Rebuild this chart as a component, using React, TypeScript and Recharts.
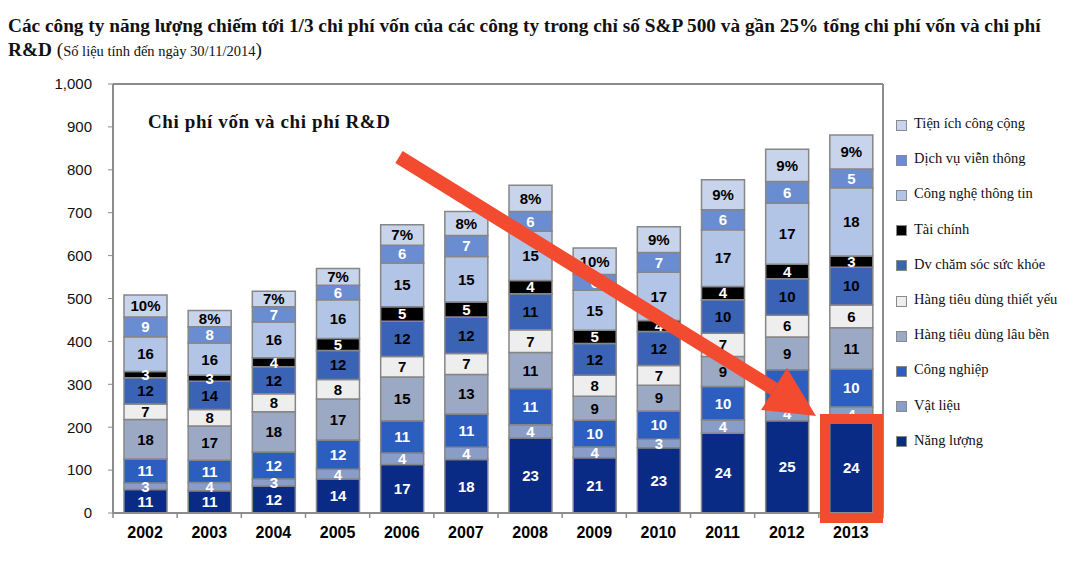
import React from "react"
import { Bar, BarChart, XAxis, YAxis, LabelList, ReferenceLine } from "recharts"

const years = ["2002", "2003", "2004", "2005", "2006", "2007", "2008", "2009", "2010", "2011", "2012", "2013"]

// values ($bn)
const nangLuong = [55, 52, 63, 79, 113, 125, 175, 129, 152, 186, 215, 212]
const vatLieu = [15, 19, 16, 23, 27, 28, 31, 25, 20, 31, 34, 35]
const congNghiep = [56, 52, 63, 68, 75, 78, 84, 62, 66, 78, 85, 88]
const lauBen = [92, 80, 94, 96, 102, 92, 84, 56, 60, 70, 76, 97]
const thietYeu = [36, 38, 42, 45, 48, 49, 53, 49, 46, 54, 51, 53]
const chamSoc = [61, 66, 63, 68, 82, 85, 84, 74, 79, 78, 85, 88]
const taiChinh = [15, 14, 21, 28, 34, 35, 31, 31, 26, 31, 34, 26]
const cntt = [81, 75, 83, 90, 102, 106, 115, 93, 112, 132, 142, 159]
const vienThong = [46, 38, 36, 34, 41, 49, 46, 37, 46, 47, 51, 44]
const tienIch = [51, 38, 36, 39, 48, 56, 61, 62, 60, 70, 75, 79]

// share labels (%) printed in the segments
const nangLuongPct = [11, 11, 12, 14, 17, 18, 23, 21, 23, 24, 25, 24]
const vatLieuPct = [3, 4, 3, 4, 4, 4, 4, 4, 3, 4, 4, 4]
const congNghiepPct = [11, 11, 12, 12, 11, 11, 11, 10, 10, 10, 10, 10]
const lauBenPct = [18, 17, 18, 17, 15, 13, 11, 9, 9, 9, 9, 11]
const thietYeuPct = [7, 8, 8, 8, 7, 7, 7, 8, 7, 7, 6, 6]
const chamSocPct = [12, 14, 12, 12, 12, 12, 11, 12, 12, 10, 10, 10]
const taiChinhPct = [3, 3, 4, 5, 5, 5, 4, 5, 4, 4, 4, 3]
const cnttPct = [16, 16, 16, 16, 15, 15, 15, 15, 17, 17, 17, 18]
const vienThongPct = [9, 8, 7, 6, 6, 7, 6, 6, 7, 6, 6, 5]
const tienIchPct = [10, 8, 7, 7, 7, 8, 8, 10, 9, 9, 9, 9]

const yTicks = [0, 100, 200, 300, 400, 500, 600, 700, 800, 900, 1000]

const series = [
  { key: "nangLuong", name: "Năng lượng", values: nangLuong, pct: nangLuongPct, color: "#0a2b85", text: "#fff" },
  { key: "vatLieu", name: "Vật liệu", values: vatLieu, pct: vatLieuPct, color: "#8a9dc8", text: "#fff" },
  { key: "congNghiep", name: "Công nghiệp", values: congNghiep, pct: congNghiepPct, color: "#2b5ebf", text: "#fff" },
  { key: "lauBen", name: "Hàng tiêu dùng lâu bền", values: lauBen, pct: lauBenPct, color: "#9ca9c5", text: "#000" },
  { key: "thietYeu", name: "Hàng tiêu dùng thiết yếu", values: thietYeu, pct: thietYeuPct, color: "#eeeeee", text: "#000" },
  { key: "chamSoc", name: "Dv chăm sóc sức khỏe", values: chamSoc, pct: chamSocPct, color: "#3b63b5", text: "#000" },
  { key: "taiChinh", name: "Tài chính", values: taiChinh, pct: taiChinhPct, color: "#000000", text: "#fff" },
  { key: "cntt", name: "Công nghệ thông tin", values: cntt, pct: cnttPct, color: "#b3c5e6", text: "#000" },
  { key: "vienThong", name: "Dịch vụ viễn thông", values: vienThong, pct: vienThongPct, color: "#6a8cd0", text: "#fff" },
  { key: "tienIch", name: "Tiện ích công cộng", values: tienIch, pct: tienIchPct, color: "#c7d4ec", text: "#000" },
]

const data = years.map((year, i) => {
  const row: Record<string, string | number> = { year }
  series.forEach((s) => {
    row[s.key] = s.values[i]
    row[s.key + "P"] = s.pct[i]
  })
  return row
})

const W = 1067
const H = 565
const PLOT_LEFT = 113
const PLOT_RIGHT = 883
const PLOT_TOP = 84
const PLOT_BOTTOM = 513
const X_AXIS_H = 40
const HALF_BAND = (PLOT_RIGHT - PLOT_LEFT) / years.length / 2

const sans = "'Liberation Sans', Arial, sans-serif"
const serif = "'Liberation Serif', 'Times New Roman', serif"
const axisGray = "#8c8c8c"
const red = "#f34b2f"

function XTick(props: any) {
  const { x, y, payload, index } = props
  const last = index === years.length - 1
  return (
    <g>
      <line x1={x - HALF_BAND} x2={x - HALF_BAND} y1={y} y2={y + 5} stroke={axisGray} strokeWidth={1.5} />
      {last && <line x1={x + HALF_BAND} x2={x + HALF_BAND} y1={y} y2={y + 5} stroke={axisGray} strokeWidth={1.5} />}
      <text x={x} y={y + 25} textAnchor="middle" fontFamily={sans} fontWeight="bold" fontSize={16} fill="#000">
        {payload.value}
      </text>
    </g>
  )
}

export default function App() {
  // arrow geometry
  const tail = { x: 399, y: 157 }
  const base = { x: 774, y: 389 }
  const nx = -0.527 * 7
  const ny = 0.85 * 7
  const shaft = [
    [tail.x + nx, tail.y + ny],
    [base.x + nx, base.y + ny],
    [base.x - nx, base.y - ny],
    [tail.x - nx, tail.y - ny],
  ].map((p) => p.join(",")).join(" ")

  return (
    <div style={{ position: "absolute", left: 0, top: 0, width: W, height: H, background: "#fff" }}>
      <div
        style={{
          position: "absolute",
          left: 8,
          top: 14,
          width: 1059,
          fontFamily: serif,
          fontSize: 19.3,
          fontWeight: "bold",
          lineHeight: "24px",
          color: "#111",
          whiteSpace: "nowrap",
        }}
      >
        Các công ty năng lượng chiếm tới 1/3 chi phí vốn của các công ty trong chỉ số S&amp;P 500 và gần 25% tổng chi phí vốn và chi phí
        <br />
        R&amp;D{" "}
        <span style={{ fontWeight: "normal" }}>
          (<span style={{ fontSize: 14.5 }}>Số liệu tính đến ngày 30/11/2014</span>)
        </span>
      </div>

      <div style={{ position: "absolute", left: 0, top: 0 }}>
        <BarChart
          width={W}
          height={H}
          data={data}
          margin={{ top: PLOT_TOP, right: W - PLOT_RIGHT - 1, bottom: H - PLOT_BOTTOM - X_AXIS_H, left: PLOT_LEFT - 60 }}
          barSize={43}
        >
          <XAxis
            dataKey="year"
            height={X_AXIS_H}
            tickSize={0}
            tickMargin={0}
            tickLine={false}
            axisLine={{ stroke: axisGray, strokeWidth: 2 }}
            tick={<XTick />}
            interval={0}
          />
          <YAxis
            width={60}
            domain={[0, 1000]}
            ticks={yTicks}
            interval={0}
            tickSize={5}
            tickMargin={16}
            tickFormatter={(v: number) => v.toLocaleString("en-US")}
            tick={{ fontFamily: sans, fontSize: 15, fill: "#111" }}
            tickLine={{ stroke: axisGray }}
            axisLine={{ stroke: axisGray, strokeWidth: 2 }}
          />
          <YAxis
            yAxisId="frame"
            orientation="right"
            width={1}
            domain={[0, 1000]}
            tick={false}
            tickLine={false}
            axisLine={{ stroke: axisGray, strokeWidth: 2 }}
          />
          <ReferenceLine y={1000} stroke={axisGray} strokeWidth={2} />
          {series.map((s, i) => (
            <Bar
              key={s.key}
              dataKey={s.key}
              name={s.name}
              stackId="a"
              fill={s.color}
              stroke="#868686"
              strokeWidth={1.5}
              isAnimationActive={false}
            >
              <LabelList
                dataKey={s.key + "P"}
                position="center"
                fill={s.text}
                fontFamily={sans}
                fontWeight="bold"
                fontSize={15}
                formatter={(v: any) => (i === series.length - 1 ? `${v}%` : `${v}`)}
              />
            </Bar>
          ))}
        </BarChart>
      </div>

      <div
        style={{
          position: "absolute",
          left: 148,
          top: 112,
          fontFamily: serif,
          fontSize: 19,
          fontWeight: "bold",
          lineHeight: "20px",
          letterSpacing: 0.6,
          color: "#111",
        }}
      >
        Chi phí vốn và chi phí R&amp;D
      </div>

      <div style={{ position: "absolute", left: 896, top: 106 }}>
        {[...series].reverse().map((s) => (
          <div key={s.key} style={{ display: "flex", alignItems: "center", height: 35.2 }}>
            <span
              style={{
                width: 9,
                height: 9,
                background: s.color,
                border: "1px solid #8a8a8a",
                marginRight: 7,
                marginTop: 3,
              }}
            />
            <span style={{ fontFamily: serif, fontSize: 14.5, color: "#111", whiteSpace: "nowrap" }}>{s.name}</span>
          </div>
        ))}
      </div>

      <svg width={W} height={H} style={{ position: "absolute", left: 0, top: 0, pointerEvents: "none" }}>
        <polygon points={shaft} fill={red} />
        <polygon points="787,368 761,410 816,416" fill={red} />
        <rect x={825} y={419} width={53} height={99} fill="none" stroke={red} strokeWidth={10} />
      </svg>
    </div>
  )
}
